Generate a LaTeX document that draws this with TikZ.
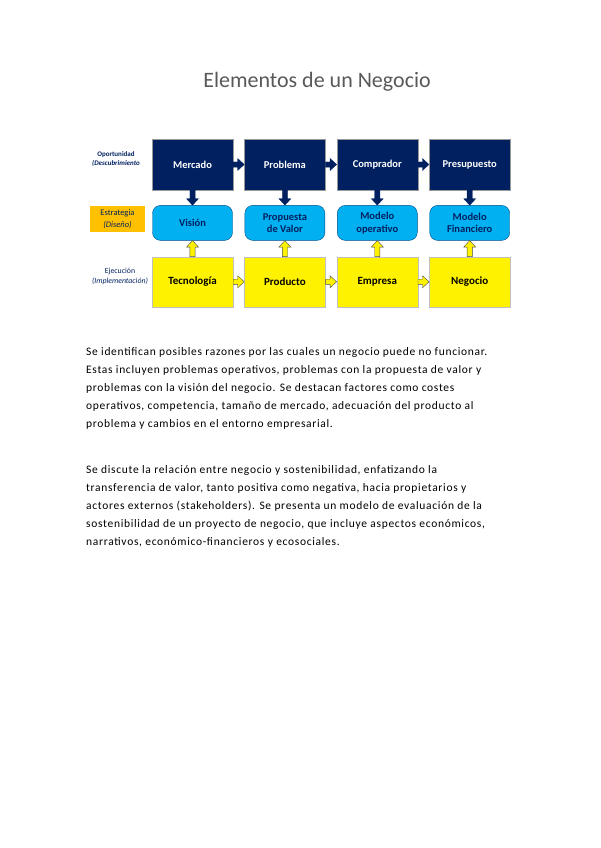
\documentclass[tikz,border=0pt]{standalone}
\usepackage{fontspec}
\setmainfont{Carlito}
\usetikzlibrary{positioning, calc}

\definecolor{navyblk}{RGB}{0,32,96}
\definecolor{skyblk}{RGB}{0,176,240}
\definecolor{orangeblk}{RGB}{255,192,0}
\definecolor{titlegray}{RGB}{89,89,89}

\begin{document}
\begin{tikzpicture}[
  x=1pt, y=-1pt,
  node distance=15pt and 11pt,
  opp/.style={draw=black!40, fill=navyblk, minimum width=81pt, minimum height=51pt,
              inner sep=0pt, text=white, font=\fontsize{10.5}{12}\selectfont\bfseries},
  est/.style={draw=navyblk!70!skyblk, fill=skyblk, rounded corners=8pt, minimum width=80pt,
              minimum height=35pt, inner sep=0pt, align=center, text=navyblk,
              font=\fontsize{10.5}{12.5}\selectfont\bfseries},
  eje/.style={draw=black!25, fill=yellow, minimum width=81pt, minimum height=50pt,
              inner sep=0pt, font=\fontsize{11}{12}\selectfont\bfseries},
  tag/.style={align=center, inner sep=0pt, text=navyblk},
  line/.style={anchor=base west, inner sep=0pt,
               font=\fontsize{11.5}{13}\selectfont\addfontfeature{LetterSpace=6}},
  blk/.style={to path={
      let \p1=(\tikztostart), \p2=(\tikztotarget), \p3=($(\p2)!6.5pt!(\p1)$) in
      ($(\p1)!2.6pt!90:(\p2)$) -- ($(\p3)!2.6pt!-90:(\p1)$) -- ($(\p3)!6pt!-90:(\p1)$)
      -- (\p2) -- ($(\p3)!6pt!90:(\p1)$) -- ($(\p3)!2.6pt!90:(\p1)$)
      -- ($(\p1)!2.6pt!-90:(\p2)$) -- cycle}},
  navyarr/.style={blk, fill=navyblk, draw=navyblk, line width=0.3pt},
  yelarr/.style={blk, fill=yellow, draw=black!70, line width=0.4pt},
]
\useasboundingbox (0,0) rectangle (600,848);

\node[text=titlegray, font=\fontsize{22}{26}\selectfont, anchor=base] (title) at (317,88)
    {Elementos de un Negocio};

% opportunity row
\node[opp] (mer) at (192.5,164.5) {Mercado};
\node[opp, right=of mer] (pro) {Problema};
\node[opp, right=of pro] (com) {Comprador};
\node[opp, right=of com] (pre) {Presupuesto};

% strategy row
\node[est, below=of mer] (vis) {Visión};
\node[est, below=of pro] (prv) {Propuesta\\de Valor};
\node[est, below=of com] (mop) {Modelo\\operativo};
\node[est, below=of pre] (mfi) {Modelo\\Financiero};

% execution row
\node[eje, below=16pt of vis] (tec) {Tecnología};
\node[eje, below=16pt of prv] (prd) {Producto};
\node[eje, below=16pt of mop] (emp) {Empresa};
\node[eje, below=16pt of mfi] (neg) {Negocio};

% row labels
\node[tag, font=\fontsize{7}{9}\selectfont\bfseries] (lopo) at (116,159.5)
    {Oportunidad\\{\itshape(Descubrimiento}};
\node[tag, fill=orangeblk, minimum width=55pt, minimum height=26pt,
      font=\fontsize{8.5}{12}\selectfont] (lest) at (117.5,219)
    {Estrategia\\{\itshape(Diseño)}};
\node[tag, font=\fontsize{7.8}{9.5}\selectfont] (leje) at (120,276.5)
    {Ejecución\\{\itshape(Implementación)}};

\draw[navyarr] (mer.east) to (pro.west);
\draw[navyarr] (pro.east) to (com.west);
\draw[navyarr] (com.east) to (pre.west);
\draw[navyarr] (mer.south) to (vis.north);
\draw[navyarr] (pro.south) to (prv.north);
\draw[navyarr] (com.south) to (mop.north);
\draw[navyarr] (pre.south) to (mfi.north);
\draw[yelarr] (tec.north) to (vis.south);
\draw[yelarr] (prd.north) to (prv.south);
\draw[yelarr] (emp.north) to (mop.south);
\draw[yelarr] (neg.north) to (mfi.south);
\draw[yelarr] (tec.east) to (prd.west);
\draw[yelarr] (prd.east) to (emp.west);
\draw[yelarr] (emp.east) to (neg.west);

\foreach \t [count=\i] in {
    {Se identifican posibles razones por las cuales un negocio puede no funcionar.},
    {Estas incluyen problemas operativos, problemas con la propuesta de valor y},
    {problemas con la visión del negocio. Se destacan factores como costes},
    {operativos, competencia, tamaño de mercado, adecuación del producto al},
    {problema y cambios en el entorno empresarial.}}
  \node[line] (pa\i) at (86,{355+18.2*(\i-1)}) {\t};

\foreach \t [count=\i] in {
    {Se discute la relación entre negocio y sostenibilidad, enfatizando la},
    {transferencia de valor, tanto positiva como negativa, hacia propietarios y},
    {actores externos (stakeholders). Se presenta un modelo de evaluación de la},
    {sostenibilidad de un proyecto de negocio, que incluye aspectos económicos,},
    {narrativos, económico-financieros y ecosociales.}}
  \node[line] (pb\i) at (86,{473+18.2*(\i-1)}) {\t};
\end{tikzpicture}
\end{document}
